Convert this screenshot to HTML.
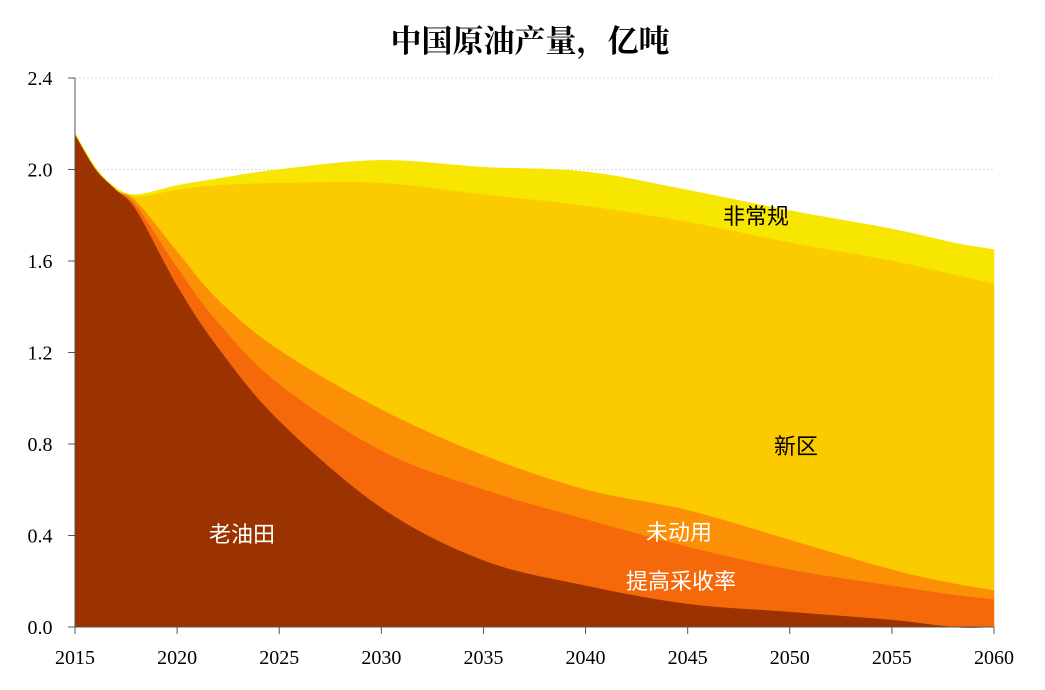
<!DOCTYPE html>
<html><head><meta charset="utf-8"><style>
body{margin:0;background:#fff;}
svg text{font-family:"Liberation Serif","Noto Serif CJK SC",serif;}
</style></head><body>
<svg id="chart" width="1045" height="685" viewBox="0 0 1045 685" xmlns="http://www.w3.org/2000/svg">
<text x="530" y="52" text-anchor="middle" font-size="31" font-weight="bold" style="font-family:'Liberation Serif','Noto Serif CJK SC',serif">中国原油产量，亿吨</text>
<g id="grid"></g><g id="areas"></g><g id="axes"></g><g id="labels"></g>
</svg>
<script>
const years=[2015,2016,2017,2018,2020,2022,2025,2030,2035,2040,2045,2050,2055,2058,2060];
const oldField=[2.15,2.0,1.91,1.82,1.49,1.22,0.90,0.52,0.29,0.18,0.10,0.065,0.03,0,0];
const eor=[0,0,0,0.02,0.08,0.11,0.16,0.25,0.31,0.29,0.25,0.185,0.15,0.14,0.12];
const unused=[0,0,0,0.02,0.07,0.10,0.15,0.18,0.15,0.13,0.16,0.13,0.07,0.05,0.04];
const newArea=[0,0,0,0.02,0.27,0.50,0.73,0.99,1.14,1.24,1.26,1.30,1.35,1.35,1.34];
const unconv=[0.01,0.01,0.01,0.01,0.02,0.03,0.06,0.10,0.12,0.15,0.14,0.14,0.14,0.14,0.15];
const yTicks=["0.0","0.4","0.8","1.2","1.6","2.0","2.4"];
const xTicks=[2015,2020,2025,2030,2035,2040,2045,2050,2055,2060];
const ns="http://www.w3.org/2000/svg";
const X=v=>75+(v-2015)*(994-75)/45;
const Y=v=>627-v*(627-78)/2.4;
function mk(tag,attrs,parent){const e=document.createElementNS(ns,tag);for(const k in attrs)e.setAttribute(k,attrs[k]);document.getElementById(parent).appendChild(e);return e;}
function smooth(pts){
  let d='';
  for(let i=0;i<pts.length-1;i++){
    const p0=pts[Math.max(0,i-1)],p1=pts[i],p2=pts[i+1],p3=pts[Math.min(pts.length-1,i+2)];
    const t=0.5/3;
    const c1=[p1[0]+(p2[0]-p0[0])*t,p1[1]+(p2[1]-p0[1])*t];
    const c2=[p2[0]-(p3[0]-p1[0])*t,p2[1]-(p3[1]-p1[1])*t];
    d+=' C'+c1.join(',')+' '+c2.join(',')+' '+p2.join(',');
  }
  return d;
}
const series=[[oldField,'#9a3300','area-old-field'],[eor,'#f5690a','area-eor'],[unused,'#fb8f06','area-unused'],[newArea,'#fbcb00','area-new-region'],[unconv,'#f7e600','area-unconventional']];
let base=years.map(()=>0);
const layers=[];
series.forEach(s=>{const top=base.map((b,i)=>b+s[0][i]);layers.push([base,top,s[1],s[2]]);base=top;});
layers.reverse().forEach(l=>{
  const [b,t,c,n]=l;
  const tp=years.map((yr,i)=>[X(yr),Y(t[i])]);
  const bp=years.map((yr,i)=>[X(yr),Y(b[i])]).reverse();
  let d='M'+tp[0].join(',')+smooth(tp)+' L'+bp[0].join(',')+smooth(bp)+' Z';
  const p=mk('path',{d:d,fill:c,stroke:c,'stroke-width':0.5},'areas');
  
  
});
yTicks.forEach(t=>{
  const y=Y(parseFloat(t));
  if(parseFloat(t)>0){const g=mk('line',{x1:75,x2:994,y1:y,y2:y,stroke:'#ddd','stroke-dasharray':'2,2'},'grid');
  
  }
  const tk=mk('line',{x1:68,x2:75,y1:y,y2:y,stroke:'#555'},'axes');
  
  
  const tx=mk('text',{x:40,y:y+7,'text-anchor':'middle','font-size':20},'axes');tx.textContent=t;
  
  
});
xTicks.forEach(t=>{
  const x=X(t);
  const tk=mk('line',{x1:x,x2:x,y1:627,y2:634,stroke:'#555'},'axes');
  
  
  const tx=mk('text',{x:x,y:664,'text-anchor':'middle','font-size':20},'axes');tx.textContent=t;
  
  
});
const ya=mk('line',{x1:75,x2:75,y1:78,y2:627,stroke:'#555'},'axes');


const xa=mk('line',{x1:75,x2:994,y1:627,y2:627,stroke:'#555'},'axes');


const labs=[['老油田',242,542,'#fff','label-old-field'],['提高采收率',681,589,'#fff','label-eor'],['未动用',679,540,'#fff','label-unused'],['新区',796,454,'#000','label-new-region'],['非常规',756,224,'#000','label-unconventional']];
labs.forEach(l=>{
  const t=mk('text',{x:l[1],y:l[2],'text-anchor':'middle','font-size':22,fill:l[3],style:"font-family:'Liberation Sans','Noto Sans CJK SC',sans-serif"},'labels');
  t.textContent=l[0];
  
  
});
</script>
</body></html>
